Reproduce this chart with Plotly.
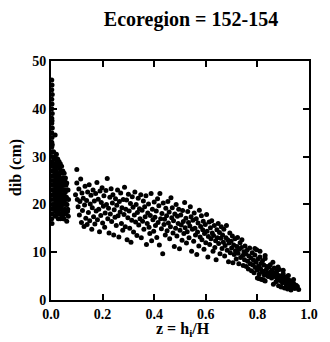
import plotly.graph_objects as go

# --- data (z = hi/H, dib in cm) ---
strip_x = [0.003,0.004,0.003,0.005,0.003,0.004,0.003,0.005,0.003,0.004,0.003,0.005,0.003,0.004,0.003,0.005,0.003,0.004,0.003,0.005,0.003,0.004,0.003,0.005,0.003,0.004,0.003,0.005,0.003,0.004,0.003,0.005,0.003,0.004,0.016]
strip_y = [46,45,44,43,42,41,40,39,38,37.5,37,36,35,34,33,32.5,32,31,30,29,28.5,28,27,26,25,24,23,22,21,20,19,18,17,16,34.5]

base_x = [0.010,0.012,0.011,0.013,0.009,0.012,0.010,0.014,0.011,0.013,0.010,0.012,
          0.016,0.018,0.015,0.017,0.019,0.016,0.018,0.015,0.017,0.019,0.016,0.018,0.017,
          0.021,0.023,0.020,0.022,0.024,0.021,0.023,0.020,0.022,0.024,0.021,0.023,
          0.026,0.028,0.025,0.027,0.029,0.026,0.028,0.025,0.027,0.029,0.026,0.028,
          0.031,0.033,0.030,0.032,0.034,0.031,0.033,0.030,0.032,0.034,0.031,
          0.036,0.038,0.035,0.037,0.039,0.036,0.038,0.035,0.037,0.039,0.036,
          0.041,0.043,0.040,0.042,0.044,0.041,0.043,0.040,0.042,0.044,
          0.046,0.048,0.045,0.047,0.049,0.046,0.048,0.045,0.047,
          0.051,0.053,0.050,0.052,0.054,0.051,0.053,0.050,
          0.056,0.058,0.055,0.057,0.059,0.056,
          0.061,0.063,0.060,0.062,0.064,0.061,
          0.066,0.068,0.065,0.067]
base_y = [31.0,29.5,28.0,27.0,26.0,25.0,24.0,23.0,22.0,21.0,20.0,19.0,
          30.0,28.5,27.5,26.5,25.5,24.5,23.5,22.5,21.5,20.5,19.5,18.5,17.5,
          30.5,29.0,27.0,26.0,25.0,24.0,23.0,22.0,21.0,20.0,19.0,18.0,
          29.5,28.0,26.5,25.5,24.5,23.5,22.5,21.5,20.5,19.5,18.5,17.0,
          29.0,27.5,26.0,25.0,24.0,23.0,22.0,21.0,20.0,19.0,18.0,
          28.5,27.0,25.5,24.5,23.5,22.5,21.5,20.5,19.5,18.0,17.0,
          28.0,26.5,25.0,24.0,23.0,22.0,21.0,20.0,19.0,17.5,
          27.0,25.5,24.5,23.0,22.0,21.0,20.0,18.5,17.0,
          26.5,25.0,24.0,23.0,21.5,20.5,19.0,17.0,
          25.5,24.0,22.5,21.0,20.0,18.0,
          24.5,23.0,21.5,20.0,18.5,16.5,
          23.0,21.0,19.0,17.5]

band_x = [0.095,0.100,0.100,0.102,0.105,0.108,0.110,0.112,0.115,0.118,0.120,0.122,0.125,0.128,0.130,0.132,0.135,0.138,0.140,0.142,0.145,0.148,0.150,0.152,
          0.155,0.158,0.160,0.163,0.165,0.168,0.170,0.173,0.175,0.178,0.180,0.183,0.185,0.188,0.190,0.193,0.195,0.198,0.200,0.203,0.205,0.208,0.210,0.213,0.215,0.218,0.220,0.223,0.225,0.228,0.230,0.233,0.235,0.238,0.240,0.243,0.245,0.248,
          0.250,0.253,0.255,0.258,0.260,0.263,0.265,0.268,0.270,0.273,0.275,0.278,0.280,0.283,0.285,0.288,0.290,0.293,0.295,0.298,0.300,0.303,0.305,0.308,0.310,0.313,0.315,0.318,0.320,0.323,0.325,0.328,0.330,0.333,0.335,0.338,0.340,0.343,0.345,0.348,
          0.350,0.353,0.355,0.358,0.360,0.363,0.365,0.368,0.370,0.373,0.375,0.378,0.380,0.383,0.385,0.388,0.390,0.393,0.395,0.398,0.400,0.403,0.405,0.408,0.410,0.413,0.415,0.418,0.420,0.422,0.425,0.428,0.430,0.433,0.435,0.438,0.440,0.443,0.445,0.448,
          0.450,0.453,0.455,0.458,0.460,0.463,0.465,0.468,0.470,0.473,0.475,0.478,0.480,0.483,0.485,0.488,0.490,0.493,0.495,0.498,0.500,0.503,0.505,0.508,0.510,0.513,0.515,0.518,0.520,0.523,0.525,0.528,0.530,0.533,0.535,0.538,0.540,0.543,0.545,0.548,
          0.550,0.553,0.555,0.558,0.560,0.563,0.565,0.568,0.570,0.573,0.575,0.578,0.580,0.583,0.585,0.588,0.590,0.593,0.595,0.598,0.600,0.603,0.605,0.608,0.610,0.613,0.615,0.618,0.620,0.623,0.625,0.628,0.630,0.633,0.635,0.638,0.640,0.643,0.645,0.648,
          0.650,0.653,0.655,0.658,0.660,0.663,0.665,0.668,0.670,0.673,0.675,0.678,0.680,0.683,0.685,0.688,0.690,0.693,0.695,0.698,0.700,0.703,0.705,0.708,0.710,0.713,0.715,0.718,0.720,0.723,0.725,0.728,0.730,0.733,0.735,0.738,0.740,0.743,0.745,0.748]
band_y = [22.0,27.3,24.5,21.0,19.5,23.2,17.8,20.6,25.3,16.2,22.4,18.7,21.3,15.4,19.9,23.8,17.1,20.8,15.8,22.6,18.3,24.1,16.6,20.1,
          21.9,14.8,19.3,23.0,17.4,20.7,15.9,22.3,18.6,24.6,16.8,21.1,19.0,14.3,22.8,17.7,20.4,23.5,16.1,19.6,21.8,15.2,18.2,22.9,20.0,25.4,17.0,19.2,14.0,21.5,18.0,23.3,16.4,20.3,22.0,13.6,18.9,17.3,
          21.2,15.6,19.8,23.0,17.6,13.2,20.6,18.4,22.4,16.0,19.3,14.6,21.0,17.9,23.6,15.3,19.0,20.9,12.6,17.2,22.1,18.6,15.0,20.2,12.1,16.7,21.6,19.4,14.2,17.8,22.6,16.3,20.0,13.5,18.3,21.3,15.7,19.1,17.0,22.0,
          13.0,18.8,16.5,20.7,14.8,19.5,17.4,21.8,11.6,16.0,18.2,20.1,15.2,13.9,17.7,22.3,12.4,19.0,16.8,14.4,20.5,17.3,15.6,18.6,13.1,21.2,16.2,19.7,11.5,22.3,17.0,14.9,18.1,9.7,20.3,15.8,16.9,13.6,19.2,17.6,
          14.5,20.6,16.1,18.4,12.8,15.3,21.4,17.2,19.3,14.0,16.6,11.2,18.0,15.0,20.0,13.4,17.5,16.0,19.0,10.7,14.6,17.8,15.7,12.5,18.7,16.4,13.9,20.4,15.1,17.1,11.9,14.3,18.5,16.2,13.0,15.5,19.5,17.4,10.2,14.8,
          16.7,12.3,18.2,15.0,13.6,17.0,9.5,14.2,16.1,11.3,18.8,13.2,15.4,17.6,12.6,14.7,16.5,10.6,13.9,15.8,12.0,17.9,14.4,9.0,13.3,16.3,11.6,15.1,12.8,16.6,14.0,10.2,13.5,15.6,11.0,12.4,8.4,14.7,13.0,16.0,
          11.8,14.1,9.7,12.9,15.3,10.8,13.6,12.1,14.8,9.2,11.4,13.0,15.6,10.4,12.6,8.0,11.9,14.0,9.9,12.3,10.9,13.4,7.8,11.5,9.5,12.8,10.3,8.6,11.2,13.1,9.8,7.6,10.6,12.0,8.9,11.0,12.6,9.3,7.2,10.1]

tail_x = [0.750,0.752,0.755,0.757,0.760,0.762,0.765,0.767,0.770,0.772,0.775,0.777,0.780,0.782,0.785,0.787,0.790,0.792,0.795,0.797,0.800,0.802,0.805,0.807,0.810,0.812,0.815,0.817,0.820,0.822,0.825,0.827,0.830,0.832,0.835,0.837,0.840,0.842,0.845,0.847,
          0.850,0.852,0.855,0.857,0.860,0.862,0.865,0.867,0.870,0.872,0.875,0.877,0.880,0.882,0.885,0.887,0.890,0.892,0.895,0.897,0.900,0.902,0.905,0.907,0.910,0.912,0.915,0.917,0.920,0.922,0.925,0.927,0.930,0.932,0.935,0.937,0.940,0.945,0.950,0.955,0.960,
          0.790,0.810,0.830,0.860,0.880,0.900,0.920,0.940,
          0.800,0.806,0.812,0.818,0.824,0.830]
tail_y = [8.4,11.3,9.6,7.0,10.4,8.1,6.5,9.2,10.9,7.6,8.8,6.1,9.9,7.3,8.3,5.7,9.4,6.8,7.9,10.5,6.3,8.6,7.1,5.4,9.0,6.6,7.7,5.9,8.2,6.0,7.3,5.2,8.7,5.5,6.4,7.0,5.6,4.9,6.9,5.0,
          7.4,5.9,4.6,6.3,5.3,3.3,6.7,4.9,5.7,3.8,6.0,4.4,5.2,3.0,6.4,4.1,5.0,2.7,4.7,3.6,5.5,4.3,2.5,3.9,4.8,3.2,4.5,2.3,3.7,4.2,2.9,3.4,2.1,3.8,3.0,2.6,3.5,2.4,3.1,2.8,2.2,
          10.8,10.2,9.3,7.9,6.9,6.2,5.1,4.3,
          4.6,4.5,4.4,4.3,4.2,4.0]

z_vals = strip_x + base_x + band_x + tail_x
dib_vals = strip_y + base_y + band_y + tail_y

x_ticks = [0.0, 0.2, 0.4, 0.6, 0.8, 1.0]
x_tick_text = ["0.0", "0.2", "0.4", "0.6", "0.8", "1.0"]
y_ticks = [0, 10, 20, 30, 40, 50]

serif = "Liberation Serif"

fig = go.Figure()
fig.add_trace(go.Scatter(
    x=z_vals, y=dib_vals, mode="markers",
    marker=dict(color="black", size=5, line=dict(width=0)),
    showlegend=False, cliponaxis=False,
))

axis_common = dict(
    showline=True, linecolor="black", linewidth=2, mirror="ticks",
    ticks="inside", ticklen=6, tickwidth=1.5, tickcolor="black",
    showgrid=False, zeroline=False,
    tickfont=dict(family=serif, size=14, color="black", weight="bold"),
)

fig.update_layout(
    width=330, height=342,
    margin=dict(l=51, r=12, t=61, b=42),
    paper_bgcolor="white", plot_bgcolor="white",
    title=dict(text="Ecoregion = 152-154", x=191 / 330, xanchor="center",
               y=1 - 19 / 342, yanchor="middle", yref="container", xref="container",
               font=dict(family=serif, size=20, color="black", weight="bold")),
    xaxis=dict(range=[0, 1], tickvals=x_ticks, ticktext=x_tick_text, **axis_common),
    yaxis=dict(range=[0, 50], tickvals=y_ticks, **axis_common),
    annotations=[
        dict(text="z = h<sub>i</sub>/H", xref="paper", yref="paper",
             x=0.51, y=-29 / 239, xanchor="center", yanchor="middle", showarrow=False,
             font=dict(family=serif, size=16, color="black", weight="bold")),
        dict(text="dib (cm)", xref="paper", yref="paper", textangle=-90,
             x=-36 / 267, y=(300 - 168) / 239, xanchor="center", yanchor="middle", showarrow=False,
             font=dict(family=serif, size=16, color="black", weight="bold")),
    ],
)

fig.write_html("out.html")
